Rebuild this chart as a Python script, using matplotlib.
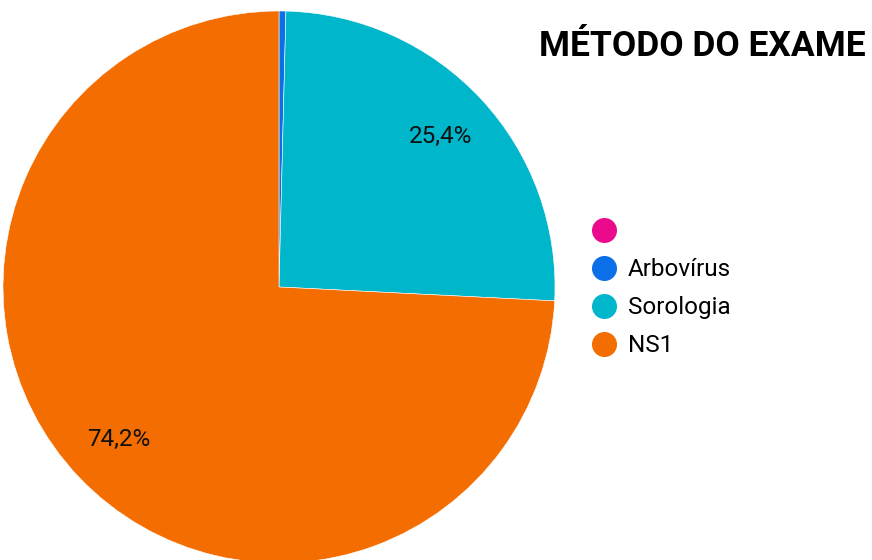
import matplotlib
matplotlib.use('Agg')
import matplotlib.pyplot as plt
from matplotlib.lines import Line2D

plt.rcParams['font.family'] = ['Roboto', 'DejaVu Sans']

# dados
categorias = ['', 'Arbovírus', 'Sorologia', 'NS1']
valores    = [0.0, 0.4, 25.4, 74.2]
cores      = ['#EC0A8C', '#0B6FE8', '#00B6CB', '#F46D00']

fig = plt.figure(figsize=(8.72, 5.6), dpi=100)
W, H = 872, 560
cx, cy, r = 279, 287, 276
ax = fig.add_axes([(cx - r) / W, (H - cy - r) / H, 2 * r / W, 2 * r / H])

def fmt(p):
    return f'{p:.1f}'.replace('.', ',') + '%' if p > 5 else ''

ax.pie(valores, colors=cores, startangle=90, counterclock=False,
       autopct=fmt, pctdistance=0.8, radius=1,
       wedgeprops=dict(edgecolor='white', linewidth=0.4),
       textprops=dict(fontsize=17.5, color='#111111'))
ax.set_xlim(-1, 1)
ax.set_ylim(-1, 1)
ax.set_aspect('auto')
ax.axis('off')

fig.text(866 / W, 1 - 47 / H, 'MÉTODO DO EXAME', ha='right', va='center',
         fontsize=25.5, fontweight='bold', color='black')

handles = [Line2D([0], [0], marker='o', linestyle='', markersize=17,
                  markerfacecolor=c, markeredgecolor=c) for c in cores]
fig.legend(handles, categorias, loc='upper left',
           bbox_to_anchor=(580 / W, 1 - 208 / H), frameon=False,
           fontsize=17.5, handletextpad=0.48, labelspacing=0.62,
           handlelength=1.0, borderpad=0)

plt.savefig('out.png', dpi=100)
plt.close()
